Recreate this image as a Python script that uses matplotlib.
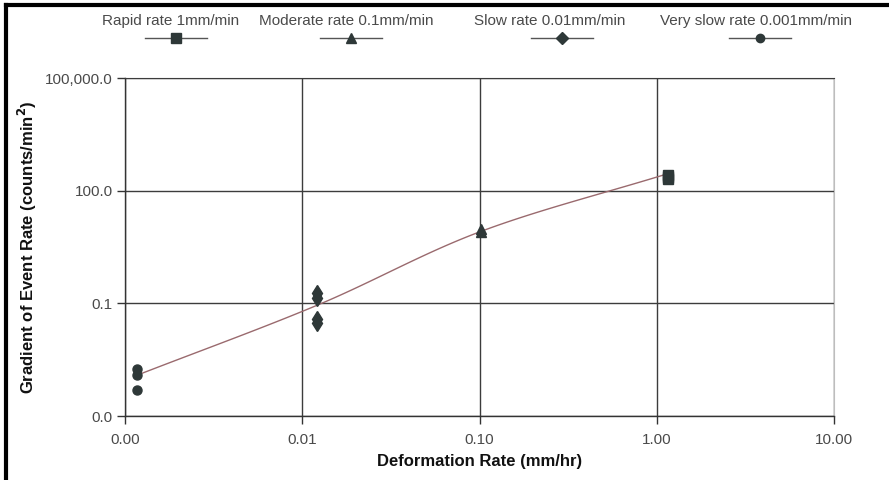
import matplotlib
matplotlib.use("Agg")
import matplotlib.pyplot as plt
import numpy as np
from matplotlib.lines import Line2D
from matplotlib.ticker import FixedLocator, FuncFormatter, NullLocator

plt.rcParams['font.family'] = ['Liberation Sans', 'DejaVu Sans']

# ---- data ----
rapid_x = [1.154, 1.154, 1.154]
rapid_y = [265.0, 225.0, 200.0]
moderate_x = [0.1014, 0.1014]
moderate_y = [9.8, 8.0]
slow_x = [0.0121, 0.0121, 0.0121, 0.0121]
slow_y = [0.184, 0.136, 0.0376, 0.0294]
vslow_x = [0.00117, 0.00117, 0.00117]
vslow_y = [0.00177, 0.00122, 0.00049]

# smoothed trend line through the groups
trend_x = [0.00117, 0.0121, 0.1014, 1.154]
trend_y = [0.00122, 0.0885, 8.16, 283.0]

series_labels = ["Rapid rate 1mm/min", "Moderate rate 0.1mm/min",
                 "Slow rate 0.01mm/min", "Very slow rate 0.001mm/min"]
x_ticks = [0.001, 0.01, 0.1, 1.0, 10.0]
y_ticks = [1e-4, 0.1, 100.0, 1e5]

mcol = '#2e3838'
tick_col = '#4a4a4a'

W, H = 889, 480
fig = plt.figure(figsize=(W / 100, H / 100), dpi=100)
fig.patch.set_facecolor('white')
ax = fig.add_axes([125 / W, 1 - 416 / H, (834 - 125) / W, (416 - 78) / H])

ax.set_xscale('log')
ax.set_yscale('log')
ax.set_xlim(x_ticks[0], x_ticks[-1])
ax.set_ylim(y_ticks[0], y_ticks[-1])

# smooth trend line (Catmull-Rom in log space, like a spreadsheet smoothed line)
lx = np.log10(trend_x)
ly = np.log10(trend_y)
px = np.concatenate([[2 * lx[0] - lx[1]], lx, [2 * lx[-1] - lx[-2]]])
py = np.concatenate([[2 * ly[0] - ly[1]], ly, [2 * ly[-1] - ly[-2]]])
cx, cy = [], []
t = np.linspace(0, 1, 30)
for i in range(1, len(px) - 2):
    p0, p1, p2, p3 = px[i - 1], px[i], px[i + 1], px[i + 2]
    q0, q1, q2, q3 = py[i - 1], py[i], py[i + 1], py[i + 2]
    a = 0.5 * (2 * p1 + (-p0 + p2) * t + (2 * p0 - 5 * p1 + 4 * p2 - p3) * t**2 + (-p0 + 3 * p1 - 3 * p2 + p3) * t**3)
    b = 0.5 * (2 * q1 + (-q0 + q2) * t + (2 * q0 - 5 * q1 + 4 * q2 - q3) * t**2 + (-q0 + 3 * q1 - 3 * q2 + q3) * t**3)
    cx.extend(a)
    cy.extend(b)
ax.plot(10 ** np.array(cx), 10 ** np.array(cy), color='#9a6a6e', lw=1.0, zorder=3)

ax.plot(rapid_x, rapid_y, linestyle='none', marker='s', ms=7.5, color=mcol, zorder=4)
ax.plot(moderate_x, moderate_y, linestyle='none', marker='^', ms=7.5, color=mcol, zorder=4)
ax.plot(slow_x, slow_y, linestyle='none', marker='d', ms=8.5, color=mcol, zorder=4)
ax.plot(vslow_x, vslow_y, linestyle='none', marker='o', ms=6.5, color=mcol, zorder=4)

ax.xaxis.set_major_locator(FixedLocator(x_ticks))
ax.yaxis.set_major_locator(FixedLocator(y_ticks))
ax.xaxis.set_minor_locator(NullLocator())
ax.yaxis.set_minor_locator(NullLocator())
ax.xaxis.set_major_formatter(FuncFormatter(lambda v, p: f"{v:.2f}"))
ax.yaxis.set_major_formatter(FuncFormatter(lambda v, p: f"{v:,.1f}"))
ax.tick_params(axis='both', which='major', direction='out', length=6, width=1,
               color='#333333', labelcolor=tick_col, labelsize=11)
ax.tick_params(axis='x', pad=6)
ax.tick_params(axis='y', pad=3)

ax.grid(True, which='major', color='#3c3c3c', lw=1.0)
ax.set_axisbelow(True)
for s in ['left', 'bottom']:
    ax.spines[s].set_color('#333333')
    ax.spines[s].set_linewidth(1.0)
ax.spines['top'].set_color('#3c3c3c')
ax.spines['right'].set_color('#bdbdbd')

ax.set_xlabel("Deformation Rate (mm/hr)", fontsize=12, fontweight='bold', color='#111111', labelpad=5)
ax.set_ylabel("Gradient of Event Rate (counts/min$^\\mathbf{2}$)", fontsize=12, fontweight='bold',
              color='#111111', labelpad=4)

# ---- legend along the top ----
leg_text_x = [171, 346, 550, 756]
leg_mark_x = [176, 351, 562, 760]
markers = ['s', '^', 'D', 'o']
msizes = [7, 7.5, 6.5, 6]
for lab, tx, mx, mk, ms in zip(series_labels, leg_text_x, leg_mark_x, markers, msizes):
    fig.text(tx / W, 1 - 21 / H, lab, ha='center', va='center', fontsize=11, color='#4a4a4a')
    fig.add_artist(Line2D([(mx - 31) / W, (mx + 31) / W], [1 - 38 / H, 1 - 38 / H],
                          color='#555555', lw=1.0, transform=fig.transFigure))
    fig.add_artist(Line2D([mx / W], [1 - 38 / H], marker=mk, ms=ms, color=mcol,
                          linestyle='none', transform=fig.transFigure))

# ---- outer frame (left and top) ----
fig.add_artist(Line2D([6 / W, 6 / W], [0, 1 - 5 / H], color='black', lw=3, transform=fig.transFigure))
fig.add_artist(Line2D([6 / W, 1], [1 - 5 / H, 1 - 5 / H], color='black', lw=3, transform=fig.transFigure))

fig.savefig("out.png", dpi=100)
